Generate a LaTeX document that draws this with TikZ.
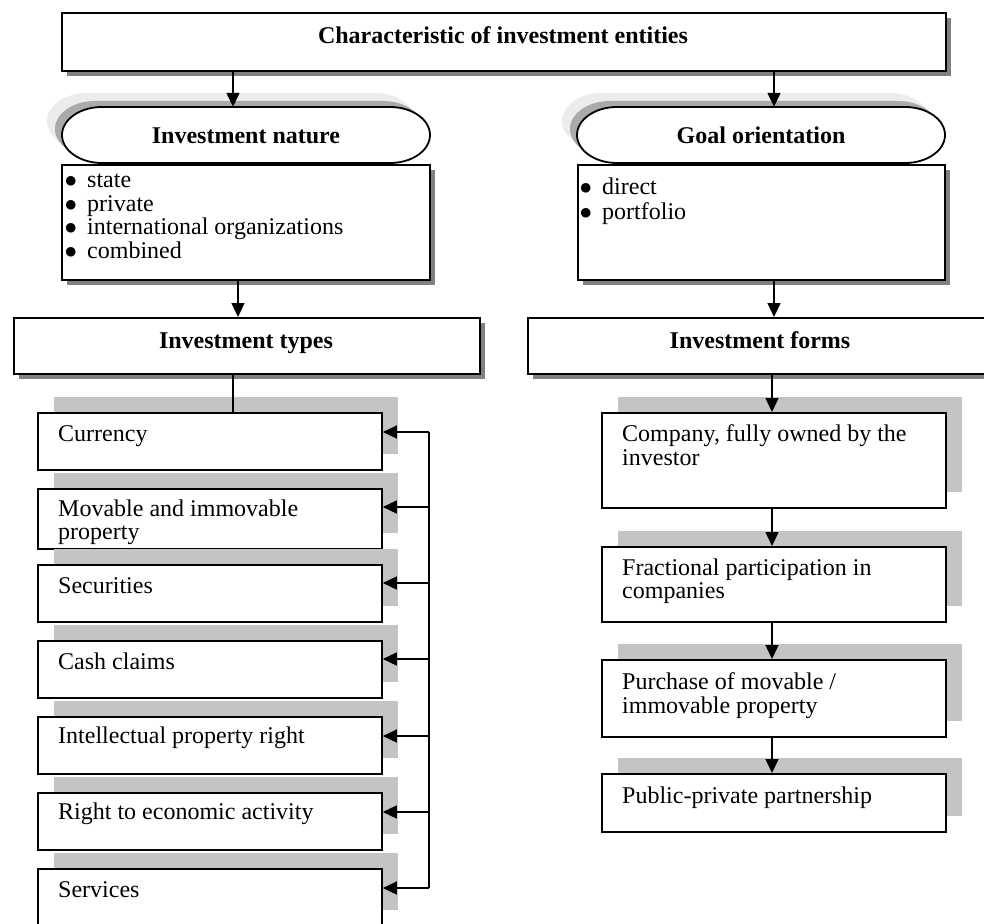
\documentclass[tikz,border=0pt]{standalone}
\usepackage{fontspec}
\setmainfont{Liberation Serif}
\usetikzlibrary{arrows.meta,shadows}
\definecolor{shdark}{RGB}{128,128,128}
\definecolor{shcheck}{RGB}{196,196,196}
\definecolor{shstadA}{RGB}{236,236,236}
\definecolor{shstadB}{RGB}{170,170,170}
\newcommand{\stadpath}[4]{({#1+40},#2) -- ({#3-40},#2) arc[start angle=-90,end angle=90,x radius=40,y radius=28] -- ({#1+40},#4) arc[start angle=90,end angle=270,x radius=40,y radius=28] -- cycle}
\newcommand{\bul}{\makebox[22.5pt][l]{$\bullet$}}
\tikzset{
  bx/.style={draw, line width=1.8pt, fill=white, inner sep=0pt, anchor=north west},
  rshadow/.style={drop shadow={shadow xshift=5pt,shadow yshift=-5pt,fill=shdark,opacity=1}},
  cshadow/.style={drop shadow={shadow xshift=16pt,shadow yshift=16pt,fill=shcheck,opacity=1}},
  colbox/.style={bx,cshadow,minimum width=344pt},
  txt/.style={font=\fontsize{24}{23.6}\selectfont, inner sep=0pt, align=left, anchor=north west},
  hd/.style={font=\fontsize{24}{23.6}\selectfont\bfseries, inner sep=0pt, anchor=base},
  conn/.style={line width=1.4pt},
  arr/.style={conn, -{Triangle[length=14pt,width=13pt]}},
  stadnode/.style={minimum width=368pt, minimum height=56pt, inner sep=0pt}
}
\begin{document}
\begin{tikzpicture}[x=1pt,y=-1pt]
\useasboundingbox (0,0) rectangle (984,923);
\clip (0,0) rectangle (984,923);

% coordinates for connector x positions
\coordinate (xA) at (233,0);
\coordinate (xB) at (774,0);
\coordinate (xC) at (238,0);
\coordinate (xD) at (772,0);
\coordinate (xBus) at (429,0);

% top box
\node[bx,rshadow,minimum width=884pt,minimum height=58pt] (top) at (61,12) {};
\node[hd] (topT) at (503,43.3) {Characteristic of investment entities};

% stadium: investment nature
\fill[shstadA] \stadpath{47}{93}{415}{149};
\fill[shstadB] \stadpath{55}{101}{423}{157};
\draw[line width=1.8pt, fill=white] \stadpath{62}{107}{430}{163};
\node[stadnode] (nat) at (246,135) {};
\node[hd] (natT) at (246,143.3) {Investment nature};

% stadium: goal orientation
\fill[shstadA] \stadpath{562}{93}{930}{149};
\fill[shstadB] \stadpath{570}{101}{938}{157};
\draw[line width=1.8pt, fill=white] \stadpath{577}{107}{945}{163};
\node[stadnode] (goal) at (761,135) {};
\node[hd] (goalT) at (761,143.3) {Goal orientation};

% list boxes
\node[bx,rshadow,minimum width=368pt,minimum height=115pt] (natbox) at (61,164) {};
\node[txt] (natL) at (64.5,170.8) {\strut\bul state\\\bul private\\\bul international organizations\\\bul combined};
\node[bx,rshadow,minimum width=367pt,minimum height=115pt] (goalbox) at (577,164) {};
\node[txt] (goalL) at (579.5,177.8) {\strut\bul direct\\\bul portfolio};

% types / forms
\node[bx,rshadow,minimum width=466pt,minimum height=56pt] (types) at (13,317) {};
\node[hd] (typesT) at (246,348) {Investment types};
\node[bx,rshadow,minimum width=466pt,minimum height=56pt] (forms) at (527,317) {};
\node[hd] (formsT) at (760,348) {Investment forms};

% left column
\node[colbox,minimum height=57pt] (cur) at (37,412) {};
\node[colbox,minimum height=60pt] (mov) at (37,488) {};
\node[colbox,minimum height=57pt] (sec) at (37,564) {};
\node[colbox,minimum height=57pt] (cash) at (37,640) {};
\node[colbox,minimum height=57pt] (intel) at (37,716) {};
\node[colbox,minimum height=57pt] (econ) at (37,792) {};
\node[colbox,minimum height=57pt] (serv) at (37,868) {};
\node[txt] (curT) at ([shift={(21,12.5)}]cur.north west) {\strut Currency};
\node[txt] (movT) at ([shift={(21,11.5)}]mov.north west) {\strut Movable and immovable\\property};
\node[txt] (secT) at ([shift={(21,12.5)}]sec.north west) {\strut Securities};
\node[txt] (cashT) at ([shift={(21,12.5)}]cash.north west) {\strut Cash claims};
\node[txt] (intelT) at ([shift={(21,11)}]intel.north west) {\strut Intellectual property right};
\node[txt] (econT) at ([shift={(21,11)}]econ.north west) {\strut Right to economic activity};
\node[txt] (servT) at ([shift={(21,12.5)}]serv.north west) {\strut Services};

% right column
\node[colbox,minimum height=95pt] (comp) at (601,412) {};
\node[colbox,minimum height=75pt] (frac) at (601,546) {};
\node[colbox,minimum height=77pt] (purch) at (601,659) {};
\node[colbox,minimum height=58pt] (pub) at (601,773) {};
\node[txt] (compT) at ([shift={(21,12.5)}]comp.north west) {\strut Company, fully owned by the\\investor};
\node[txt] (fracT) at ([shift={(21,12.5)}]frac.north west) {\strut Fractional participation in\\companies};
\node[txt] (purchT) at ([shift={(21,13)}]purch.north west) {\strut Purchase of movable /\\immovable property};
\node[txt] (pubT) at ([shift={(21,14)}]pub.north west) {\strut Public-private partnership};

% connectors
\draw[arr] (top.south -| xA) -- (nat.north -| xA);
\draw[arr] (top.south -| xB) -- (goal.north -| xB);
\draw[arr] (natbox.south -| xC) -- (types.north -| xC);
\draw[arr] (goalbox.south -| xB) -- (forms.north -| xB);
\draw[conn] (types.south -| xA) -- (cur.north -| xA);
\draw[arr] (forms.south -| xD) -- (comp.north -| xD);
\draw[arr] (comp.south -| xD) -- (frac.north -| xD);
\draw[arr] (frac.south -| xD) -- (purch.north -| xD);
\draw[arr] (purch.south -| xD) -- (pub.north -| xD);

% bus to left column
\coordinate (aCur) at ([shift={(0,20)}]cur.north east);
\coordinate (aMov) at ([shift={(0,19)}]mov.north east);
\coordinate (aSec) at ([shift={(0,19)}]sec.north east);
\coordinate (aCash) at ([shift={(0,19)}]cash.north east);
\coordinate (aIntel) at ([shift={(0,20)}]intel.north east);
\coordinate (aEcon) at ([shift={(0,20)}]econ.north east);
\coordinate (aServ) at ([shift={(0,20)}]serv.north east);
\draw[conn] (aCur -| xBus) -- (aServ -| xBus);
\foreach \a in {aCur,aMov,aSec,aCash,aIntel,aEcon,aServ}
  \draw[arr] (\a -| xBus) -- (\a);
\end{tikzpicture}
\end{document}
